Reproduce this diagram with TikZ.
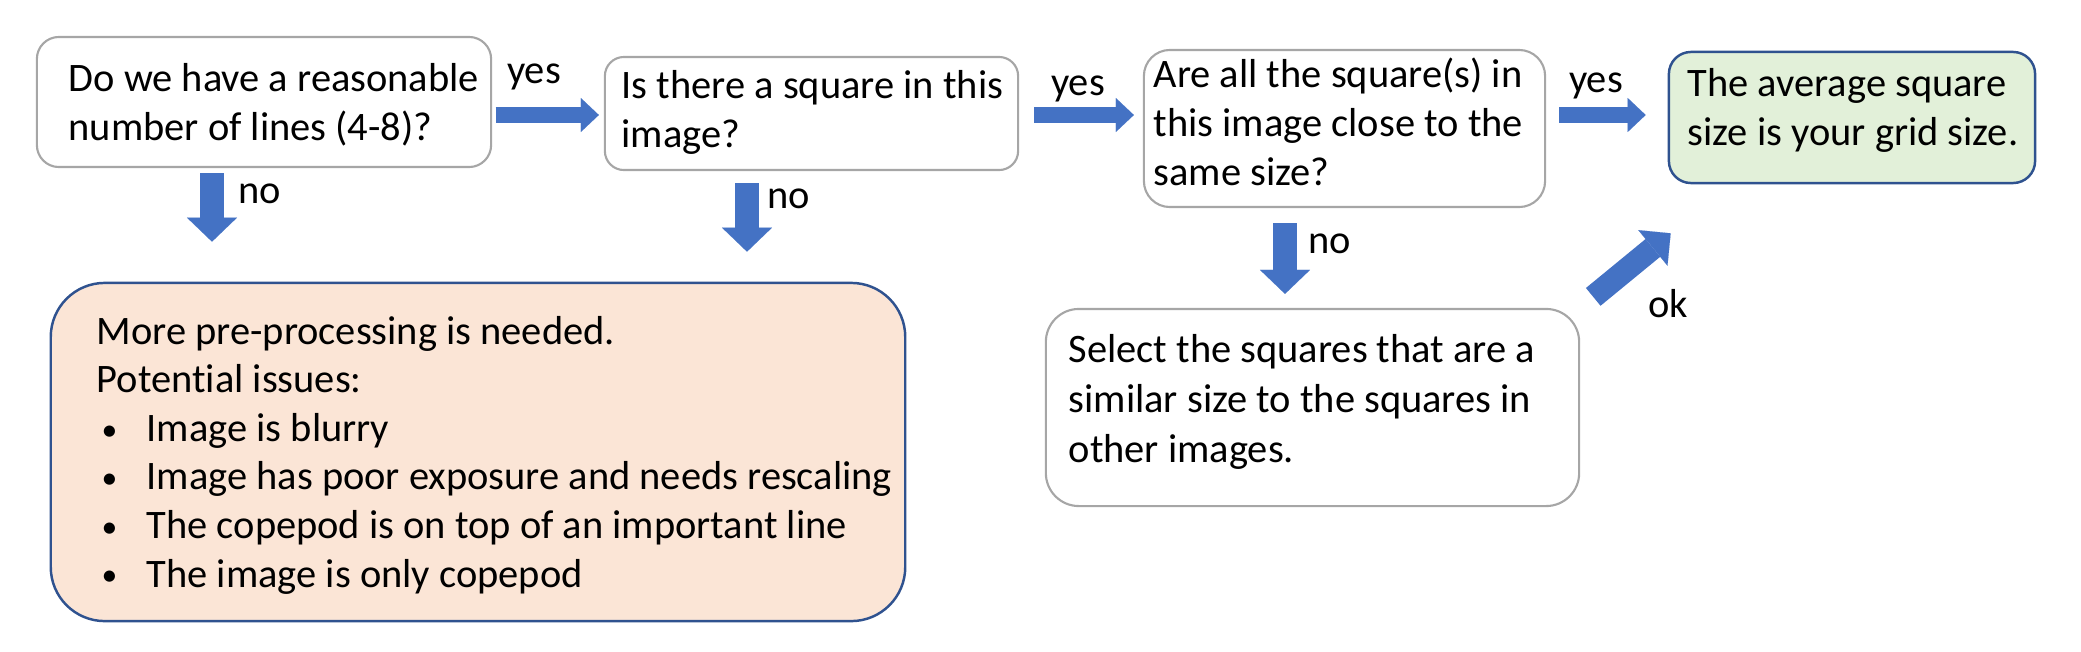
\documentclass[tikz,border=0pt]{standalone}
\usepackage{fontspec}
\setmainfont{Carlito}[Ligatures=NoCommon]
\usetikzlibrary{arrows.meta}
\definecolor{arrowblue}{HTML}{4472C4}
\definecolor{boxgrey}{HTML}{A6A6A6}
\definecolor{edgeblue}{HTML}{2F528F}
\definecolor{peach}{HTML}{FBE5D6}
\definecolor{okgreen}{HTML}{E2F0D9}
\newcommand{\issuebul}{\makebox[0.5cm][l]{\hspace{0.05cm}\raisebox{0.3pt}{\fontsize{9}{9}\selectfont\textbullet}}}
\tikzset{
	qbox/.style={draw=boxgrey, line width=0.6pt, fill=white, inner sep=0pt},
	endbox/.style={draw=edgeblue, line width=0.7pt, fill=okgreen, inner sep=0pt},
	fixbox/.style={draw=edgeblue, line width=0.7pt, fill=peach, inner sep=0pt},
	txt/.style={anchor=base west, align=left, inner sep=0pt, font=\fontsize{11.5}{13.8}\selectfont},
	lbl/.style={anchor=base, inner sep=0pt, font=\fontsize{11.5}{13.8}\selectfont},
	harrow/.style={arrowblue, line width=0.16cm, -{Triangle[width=0.34cm,length=0.18cm,line width=0.01pt]}},
	varrow/.style={arrowblue, line width=0.24cm, -{Triangle[width=0.5cm,length=0.24cm,line width=0.01pt]}}
}
\begin{document}
\begin{tikzpicture}[x=0.01cm,y=-0.01cm]
				\useasboundingbox (0,0) rectangle (2081,651);
				\node[qbox, minimum width=4.54cm, minimum height=1.30cm, rounded corners=0.22cm] (q1) at (264,102) {};
				\node[txt] (q1txt) at (68,140) {Do we have a reasonable\\number of lines (4-8)?};
				\node[qbox, minimum width=4.13cm, minimum height=1.13cm, rounded corners=0.19cm] (q2) at (811.5,113.5) {};
				\node[txt] (q2txt) at (621,147) {Is there a square in this\\image?};
				\node[qbox, minimum width=4.01cm, minimum height=1.57cm, rounded corners=0.26cm] (q3) at (1344.5,128.5) {};
				\node[txt] (q3txt) at (1153,185) {Are all the square(s) in\\this image close to the\\same size?};
				\node[endbox, minimum width=3.66cm, minimum height=1.31cm, rounded corners=0.22cm] (grid) at (1852,117.5) {};
				\node[txt] (gridtxt) at (1687,145) {The average square\\size is your grid size.};
				\node[fixbox, minimum width=8.54cm, minimum height=3.38cm, rounded corners=0.54cm] (fix) at (478,452) {};
				\node[txt] (fixtxt) at (96,587) {More pre-processing is needed.\\Potential issues:\\\issuebul Image is blurry\\\issuebul Image has poor exposure and needs rescaling\\\issuebul The copepod is on top of an important line\\\issuebul The image is only copepod};
				\node[qbox, minimum width=5.33cm, minimum height=1.97cm, rounded corners=0.33cm] (pick) at (1312.5,407.5) {};
				\node[txt, font=\fontsize{11.5}{14.2}\selectfont] (picktxt) at (1068,462) {Select the squares that are a\\similar size to the squares in\\other images.};
				\coordinate (rowy) at (0,115);
				\coordinate (d1) at (212,0);
				\coordinate (d2) at (747,0);
				\coordinate (d3) at (1285,0);
				\draw[harrow, shorten <=1pt, shorten >=0.05cm] (q1.east |- rowy) -- (q2.west |- rowy);
				\draw[harrow, shorten <=0.15cm, shorten >=0.09cm] (q2.east |- rowy) -- (q3.west |- rowy);
				\draw[harrow, shorten <=0.13cm, shorten >=0.22cm] (q3.east |- rowy) -- (grid.west |- rowy);
				\draw[varrow, shorten <=0.05cm, shorten >=0.40cm] (q1.south -| d1) -- (fix.north -| d1);
				\draw[varrow, shorten <=0.12cm, shorten >=0.30cm] (q2.south -| d2) -- (fix.north -| d2);
				\draw[varrow, shorten <=0.15cm, shorten >=0.14cm] (q3.south -| d3) -- (pick.north -| d3);
				\draw[arrowblue, line width=0.23cm, -{Triangle[width=0.46cm,length=0.23cm,line width=0.01pt]}] ([xshift=0.13cm,yshift=0.11cm]pick.north east) -- ([xshift=0.03cm,yshift=-0.49cm]grid.south west);
				\node[lbl] (yes1) at (534,83) {yes};
				\node[lbl] (yes2) at (1078,95) {yes};
				\node[lbl] (yes3) at (1596,92) {yes};
				\node[lbl] (no1) at (260,203) {no};
				\node[lbl] (no2) at (789,208) {no};
				\node[lbl] (no3) at (1330,253) {no};
				\node[lbl] (ok) at (1668,317) {ok};
\end{tikzpicture}
\end{document}
